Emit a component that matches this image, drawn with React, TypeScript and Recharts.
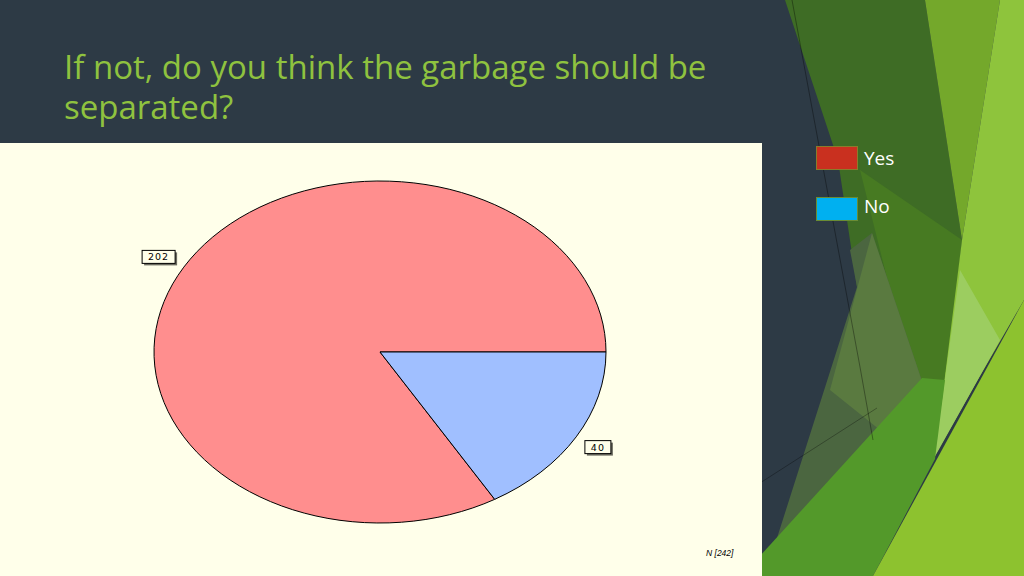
import { Legend, Pie, PieChart } from "recharts";

// answers
const answers = ["Yes", "No"];
const counts = [202, 40];
const sliceColors = ["#ff8e8e", "#a0bfff"];
const legendColors = ["#c9301f", "#00b0f0"];
const legendBorders = ["#8a7c2c", "#6a8c34"];

const title = ["If not, do you think the garbage should be", "separated?"];

const SLATE = "#2d3a45";
const PAPER = "#ffffea";
const CX = 380;
const CY = 209;
const RADIUS = 226;
const SQUASH = 171 / 226;
const RAD = Math.PI / 180;

const pieData = answers.map((name, i) => ({ name, value: counts[i], fill: sliceColors[i] }));
const total = counts.reduce((a, b) => a + b, 0);

// background facets (theme decoration)
const facets: { pts: string; fill: string }[] = [
  { pts: "785,0 925,0 962,240 945,385 920,385 857,287 838,160", fill: "#3e6c25" },
  { pts: "925,0 1000,0 962,240", fill: "#74a82b" },
  { pts: "860,170 962,240 945,395 915,390", fill: "#477a22" },
  { pts: "1000,0 1024,0 1024,300 980,376 933,459 942,400 962,240", fill: "#8ec43c" },
  { pts: "960,270 1000,340 933,460 942,400", fill: "#9ccd60" },
  { pts: "850,250 872,233 925,390 770,560 857,287", fill: "#4b6640" },
  { pts: "872,233 925,390 880,430 830,390", fill: "#5a7a40" },
  { pts: "760,556 922,378 945,380 935,459 873,576 760,576", fill: "#53992a" },
  { pts: "1024,300 1024,576 873,576", fill: "#8dc22f" }
];

const renderLabel = (props: any) => {
  const { cx, cy, midAngle, outerRadius, value } = props;
  const a = -midAngle * RAD;
  const cos = Math.cos(a);
  const sin = Math.sin(a);
  const px = cx + (outerRadius + 10) * cos;
  const py = cy + (outerRadius + 10) * sin * SQUASH;
  const text = String(value);
  const w = text.length * 7 + 12;
  const h = 13;
  const x0 = cos < 0 ? px - w : px;
  const y0 = sin < 0 ? py - h : py;
  return (
    <g>
      <rect x={x0 + 2} y={y0 + 2} width={w} height={h} fill="#6b6b60" />
      <rect x={x0} y={y0} width={w} height={h} fill={PAPER} stroke="#000" strokeWidth={1} />
      <text
        x={x0 + w / 2}
        y={y0 + h / 2 + 3.5}
        textAnchor="middle"
        fontSize={9.5}
        letterSpacing={1}
        fontFamily="DejaVu Sans"
        fill="#000"
      >
        {text}
      </text>
    </g>
  );
};

const renderLegend = () => (
  <div>
    {answers.map((name, i) => (
      <div key={name} style={{ display: "flex", alignItems: "center", height: 24, marginBottom: 27 }}>
        <span
          style={{
            width: 40,
            height: 22,
            background: legendColors[i],
            border: `1.5px solid ${legendBorders[i]}`
          }}
        />
        <span
          style={{
            marginLeft: 6,
            marginTop: i === 0 ? -1 : -6,
            color: "#ffffff",
            fontSize: 19,
            fontFamily: '"Open Sans"'
          }}
        >
          {name}
        </span>
      </div>
    ))}
  </div>
);

export default function App() {
  return (
    <div
      style={{
        position: "absolute",
        left: 0,
        top: 0,
        width: 1024,
        height: 576,
        background: SLATE,
        overflow: "hidden",
        fontFamily: '"Open Sans", sans-serif'
      }}
    >
      <style>{`
        .ellipse-pie .recharts-sector {
          transform: scaleY(${SQUASH});
          transform-origin: ${CX}px ${CY}px;
          vector-effect: non-scaling-stroke;
        }
      `}</style>
      <svg width={1024} height={576} style={{ position: "absolute", left: 0, top: 0 }}>
        {facets.map((f, i) => (
          <polygon key={i} points={f.pts} fill={f.fill} />
        ))}
        <polyline points="792,0 860,367 873,440" fill="none" stroke="rgba(0,0,0,0.35)" strokeWidth={1} />
        <line x1={760} y1={483} x2={877} y2={408} stroke="rgba(0,0,0,0.3)" strokeWidth={1} />
      </svg>
      {title.map((line, i) => (
        <div
          key={i}
          style={{
            position: "absolute",
            left: 64,
            top: 48 + i * 40,
            fontSize: 33,
            lineHeight: "38px",
            color: "#8fc23f",
            whiteSpace: "nowrap"
          }}
        >
          {line}
        </div>
      ))}
      <div style={{ position: "absolute", left: 0, top: 143, width: 762, height: 433, background: PAPER }} />
      <div className="ellipse-pie" style={{ position: "absolute", left: 0, top: 143 }}>
        <PieChart width={1024} height={433} margin={{ top: 0, right: 0, bottom: 0, left: 0 }}>
          <Pie
            data={pieData}
            dataKey="value"
            nameKey="name"
            cx={CX}
            cy={CY}
            outerRadius={RADIUS}
            startAngle={0}
            endAngle={360}
            stroke="#000"
            strokeWidth={1}
            label={renderLabel}
            labelLine={false}
            isAnimationActive={false}
          />
          <Legend content={renderLegend} wrapperStyle={{ position: "absolute", left: 816, top: 3, width: 150 }} />
        </PieChart>
      </div>
      <div
        style={{
          position: "absolute",
          left: 706,
          top: 548,
          fontSize: 8.5,
          fontStyle: "italic",
          fontFamily: '"Liberation Sans"',
          color: "#000"
        }}
      >
        N [{total}]
      </div>
    </div>
  );
}
